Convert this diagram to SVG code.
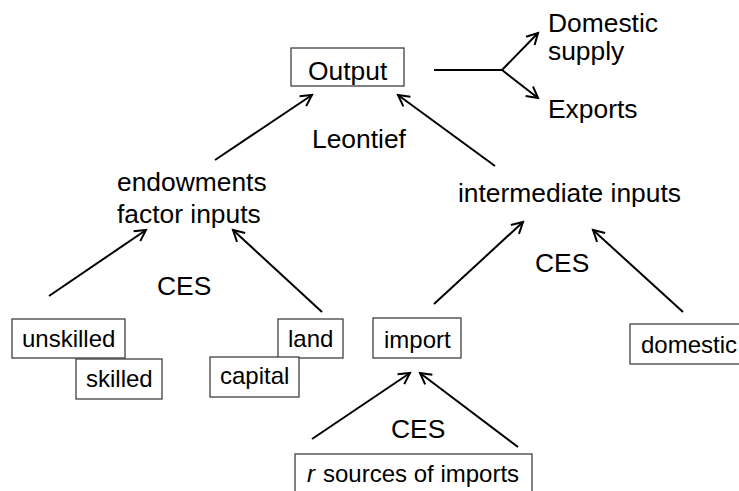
<svg xmlns="http://www.w3.org/2000/svg" width="739" height="491" viewBox="0 0 739 491">
<style>
text{font-family:"Liberation Sans",Arial,sans-serif;font-size:26.4px;fill:#000}
.lbl{font-size:24px}
.box{fill:#fff;stroke:#404040;stroke-width:1.3}
.ln{stroke:#000;stroke-width:2;fill:none}
</style>
<defs>
<marker id="ah" markerUnits="userSpaceOnUse" markerWidth="16" markerHeight="16" refX="13" refY="8" orient="auto" viewBox="0 0 16 16">
<path d="M2,2 L13,8 L2,14" fill="none" stroke="#000" stroke-width="2"/>
</marker>
</defs>
<g id="connectors">
<line class="ln" x1="215" y1="160" x2="312" y2="95" marker-end="url(#ah)"/>
<line class="ln" x1="495" y1="166" x2="398" y2="95" marker-end="url(#ah)"/>
<polyline class="ln" points="434,70 502,70"/>
<line class="ln" x1="502" y1="70" x2="538" y2="33" marker-end="url(#ah)"/>
<line class="ln" x1="502" y1="70" x2="538" y2="98" marker-end="url(#ah)"/>
<line class="ln" x1="49" y1="296" x2="146" y2="230" marker-end="url(#ah)"/>
<line class="ln" x1="322" y1="312" x2="233" y2="230" marker-end="url(#ah)"/>
<line class="ln" x1="434" y1="304" x2="523" y2="222" marker-end="url(#ah)"/>
<line class="ln" x1="683" y1="312" x2="593" y2="230" marker-end="url(#ah)"/>
<line class="ln" x1="312" y1="439" x2="410" y2="373" marker-end="url(#ah)"/>
<line class="ln" x1="518" y1="447" x2="420" y2="373" marker-end="url(#ah)"/>
</g>
<g id="output"><rect class="box" x="291" y="48" width="113" height="38"/><text x="308" y="80">Output</text></g>
<g id="domestic-supply"><text x="548" y="32">Domestic</text><text x="548" y="60">supply</text></g>
<g id="exports"><text x="548" y="118">Exports</text></g>
<g id="leontief"><text x="312" y="148">Leontief</text></g>
<g id="endowments"><text x="117" y="191">endowments</text><text x="117" y="223">factor inputs</text></g>
<g id="ces-left"><text x="157" y="295">CES</text></g>
<g id="unskilled"><rect class="box" x="12" y="319" width="113" height="39"/><text class="lbl" x="22" y="347">unskilled</text></g>
<g id="skilled"><rect class="box" x="76" y="359" width="86" height="40"/><text class="lbl" x="86" y="387">skilled</text></g>
<g id="land"><rect class="box" x="278" y="319" width="65" height="39"/><text class="lbl" x="288" y="347">land</text></g>
<g id="capital"><rect class="box" x="210" y="357" width="89" height="40"/><text class="lbl" x="220" y="384">capital</text></g>
<g id="intermediate"><text x="458" y="202">intermediate inputs</text></g>
<g id="ces-mid"><text x="535" y="272">CES</text></g>
<g id="import"><rect class="box" x="373" y="318" width="88" height="40"/><text class="lbl" x="384" y="348">import</text></g>
<g id="domestic"><rect class="box" x="630" y="324" width="112" height="40"/><text class="lbl" x="641" y="353">domestic</text></g>
<g id="ces-bottom"><text x="391" y="438">CES</text></g>
<g id="sources"><rect class="box" x="295" y="454" width="237" height="45"/><text class="lbl" x="307" y="482" font-style="italic">r</text><text class="lbl" x="323" y="482">sources of imports</text></g>
</svg>
